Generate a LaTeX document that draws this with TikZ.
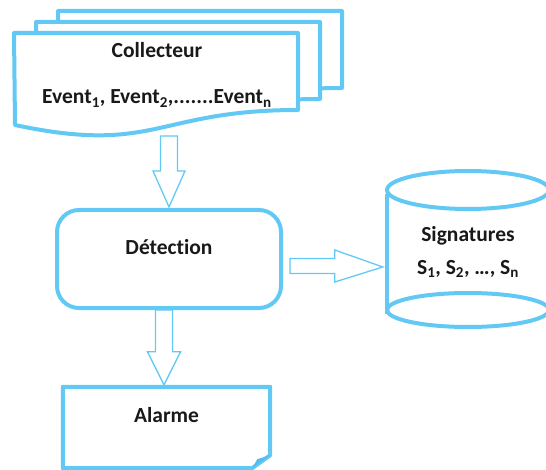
\documentclass[tikz,border=0pt]{standalone}
\usepackage{fontspec}
\setmainfont[Ligatures={NoCommon}]{Carlito}
\usetikzlibrary{calc}
\definecolor{flowblue}{HTML}{62C9F4}
\definecolor{foldblue}{HTML}{55BDEA}

\begin{document}
\begin{tikzpicture}[x=1pt,y=-1pt,
  docshape/.style={draw=flowblue, line width=4pt, line join=round, fill=white},
  outline/.style={draw=flowblue, line width=4pt, line join=round},
  labeltext/.style={font=\fontsize{21.5}{25}\selectfont\bfseries, text=black!90},
  blockarrow/.style={draw=flowblue, line width=1.3pt, fill=white, line join=miter},
]
\useasboundingbox (0,0) rectangle (546,470);

% stack of collected documents, drawn from the back one to the front one
\foreach \dx/\dy in {44/-22, 22/-11, 0/0}{
  \draw[docshape, shift={(\dx,\dy)}] (14,33) -- (298,33) -- (298,110)
     .. controls (156,110) and (156,155) .. (15,125) -- cycle;
}
\node[labeltext, align=center] (doc) at (157,75)
  {Collecteur\\[21pt]Event\textsubscript{1}, Event\textsubscript{2},.......Event\textsubscript{n}};

% detection step
\node[docshape, rounded corners=22pt, minimum width=224pt, minimum height=98pt,
      labeltext, text height=15pt, text depth=23pt] (det) at (169,259) {Détection};

% alarm output, a sheet with a folded corner
\node[minimum width=207pt, minimum height=81pt, labeltext,
      text height=15pt, text depth=25pt] (al) at (166.5,427.5) {Alarme};
\draw[outline] (al.north west) -- (al.north east) -- ([yshift=13pt]al.south east)
  -- ([xshift=-18pt]al.south east) -- (al.south west) -- cycle;
\fill[foldblue] ([yshift=13pt]al.south east) -- ([xshift=-18pt]al.south east)
  -- ([xshift=-13pt,yshift=9pt]al.south east) -- cycle;

% signature database
\node[labeltext, align=center, minimum width=162pt, minimum height=120pt] (sig) at (468,252)
  {Signatures\\[8pt]S\textsubscript{1}, S\textsubscript{2}, …, S\textsubscript{n}};
\draw[outline] ([yshift=-58pt]sig.center) ellipse [x radius=81pt, y radius=17pt];
\draw[outline] ([yshift=62pt]sig.center) ellipse [x radius=81pt, y radius=19pt];
\draw[outline] ([xshift=-81pt,yshift=58pt]sig.center) -- ([xshift=-81pt,yshift=-62pt]sig.center);
\draw[outline] ([xshift=81pt,yshift=58pt]sig.center) -- ([xshift=81pt,yshift=-62pt]sig.center);

% block arrows between the steps
\draw[blockarrow] let \p1=(det.north) in
  (\x1-8.5pt,\y1+72pt) -- (\x1-8.5pt,\y1+37pt) -- (\x1-16pt,\y1+37pt) -- (\x1,\y1+1pt)
  -- (\x1+16pt,\y1+37pt) -- (\x1+8.5pt,\y1+37pt) -- (\x1+8.5pt,\y1+72pt) -- cycle;
\draw[blockarrow] let \p1=([xshift=-2.5pt]al.north), \p2=(det.south) in
  (\x1-8.5pt,\y2) -- (\x1-8.5pt,\y1+35pt) -- (\x1-16.5pt,\y1+35pt) -- (\x1,\y1+2pt)
  -- (\x1+16.5pt,\y1+35pt) -- (\x1+8.5pt,\y1+35pt) -- (\x1+8.5pt,\y2) -- cycle;
\draw[blockarrow] let \p1=(det.east), \p2=(sig.west) in
  (\x1+7pt,\y1-14.5pt) -- (\x2-52pt,\y1-14.5pt) -- (\x2-52pt,\y1-23pt) -- (\x2-4pt,\y1-8pt)
  -- (\x2-52pt,\y1+9pt) -- (\x2-52pt,\y1+0.5pt) -- (\x1+7pt,\y1+0.5pt) -- cycle;
\end{tikzpicture}
\end{document}
